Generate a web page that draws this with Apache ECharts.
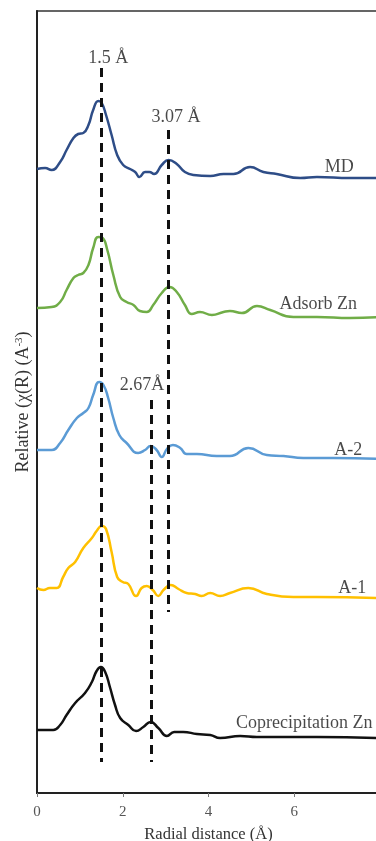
<!DOCTYPE html>
<html>
<head>
<meta charset="utf-8">
<script src="https://cdn.jsdelivr.net/npm/echarts@6/dist/echarts.min.js"></script>
<style>
  html, body { margin: 0; padding: 0; background: #ffffff; }
  #chartFT { width: 376px; height: 841px; }
</style>
</head>
<body>
<div id="chartFT"></div>
<script>
// radial distance (Å) vs stacked relative amplitude
const mdData = [[0, 62.4], [0.19, 62.5], [0.34, 62.3], [0.54, 63.1], [0.69, 64.3], [0.85, 65.5], [0.96, 65.9], [1.08, 66.0], [1.2, 66.8], [1.31, 68.3], [1.43, 69.2], [1.51, 69.0], [1.61, 67.8], [1.74, 65.8], [1.87, 63.8], [2.01, 62.8], [2.17, 62.4], [2.29, 62.1], [2.39, 61.6], [2.52, 62.1], [2.62, 62.1], [2.73, 61.9], [2.91, 62.8], [3.07, 63.3], [3.26, 62.9], [3.45, 62.1], [3.65, 61.8], [4.04, 61.7], [4.35, 61.9], [4.58, 61.9], [4.97, 62.6], [5.28, 62.1], [5.59, 61.9], [6.14, 61.5], [6.53, 61.6], [7.3, 61.5], [8, 61.5]];
const adsorbData = [[0, 48.5], [0.34, 48.6], [0.54, 49.1], [0.69, 50.3], [0.85, 51.5], [0.96, 51.8], [1.08, 52.0], [1.2, 52.8], [1.31, 54.5], [1.43, 55.6], [1.53, 55.5], [1.64, 54.3], [1.78, 51.8], [1.94, 49.6], [2.09, 49.1], [2.25, 48.8], [2.4, 48.2], [2.56, 48.1], [2.71, 48.8], [2.91, 50.0], [3.09, 50.6], [3.26, 50.1], [3.45, 48.8], [3.61, 47.9], [3.8, 48.1], [4.08, 47.8], [4.35, 48.1], [4.5, 48.2], [4.78, 48.0], [5.13, 48.7], [5.44, 48.3], [5.98, 47.6], [6.53, 47.6], [7.3, 47.5], [8, 47.6]];
const a2Data = [[0, 34.3], [0.34, 34.3], [0.54, 35.0], [0.73, 36.3], [0.93, 37.5], [1.08, 38.0], [1.2, 38.5], [1.31, 39.8], [1.45, 41.1], [1.55, 40.8], [1.66, 39.5], [1.78, 37.5], [1.92, 35.8], [2.09, 35.0], [2.36, 34.0], [2.52, 34.3], [2.65, 34.7], [2.79, 34.3], [2.91, 33.6], [3.03, 34.4], [3.17, 34.8], [3.34, 34.5], [3.49, 33.9], [3.73, 33.9], [4.19, 33.7], [4.5, 33.7], [4.93, 34.5], [5.36, 33.8], [5.75, 33.7], [6.21, 33.5], [6.92, 33.5], [8, 33.4]];
const a1Data = [[0, 20.5], [0.15, 20.3], [0.3, 20.5], [0.46, 20.5], [0.61, 21.6], [0.73, 22.5], [0.89, 23.1], [1.08, 24.5], [1.28, 25.5], [1.39, 26.2], [1.51, 26.7], [1.61, 26.4], [1.74, 24.1], [1.87, 21.6], [2.0, 21.1], [2.13, 20.9], [2.31, 19.7], [2.44, 20.5], [2.56, 20.7], [2.7, 20.3], [2.83, 19.7], [2.95, 20.3], [3.12, 20.8], [3.3, 20.4], [3.49, 20.0], [3.69, 19.9], [3.84, 19.7], [4.04, 20.0], [4.27, 19.7], [4.5, 20.0], [4.93, 20.5], [5.36, 19.9], [5.98, 19.6], [6.53, 19.6], [8, 19.5]];
const coprecData = [[0, 6.3], [0.38, 6.3], [0.54, 6.8], [0.69, 7.8], [0.89, 9.0], [1.12, 10.0], [1.28, 11.1], [1.39, 12.2], [1.49, 12.6], [1.59, 12.1], [1.7, 10.6], [1.82, 8.8], [1.94, 7.5], [2.13, 6.8], [2.31, 6.2], [2.48, 6.6], [2.65, 7.1], [2.83, 6.5], [3.03, 5.7], [3.2, 6.1], [3.41, 6.1], [3.73, 5.9], [4.04, 5.8], [4.27, 5.5], [4.74, 5.7], [5.13, 5.6], [5.75, 5.6], [6.53, 5.6], [8, 5.5]];

const seriesNames = ['MD', 'Adsorb Zn', 'A-2', 'A-1', 'Coprecipitation Zn'];
const seriesColors = ['#2e4d87', '#70ad47', '#5b9bd5', '#ffc000', '#111111'];

// dashed guide lines: [x, yTop, yBottom]
const guideLines = [[1.5, 72.5, 3.1], [3.07, 66.3, 18.1], [2.67, 39.3, 3.1]];

// text annotations: [x, y, text, align]
const annotations = [
  [1.66, 73.5, '1.5 Å', 'center'],
  [3.24, 67.6, '3.07 Å', 'center'],
  [2.45, 40.8, '2.67Å', 'center'],
  [7.05, 62.6, 'MD', 'center'],
  [6.56, 48.9, 'Adsorb Zn', 'center'],
  [7.26, 34.3, 'A-2', 'center'],
  [7.35, 20.5, 'A-1', 'center'],
  [4.64, 7.0, 'Coprecipitation Zn', 'left']
];

const curveList = [mdData, adsorbData, a2Data, a1Data, coprecData];
const fontFamily = '"Liberation Serif", "Times New Roman", serif';

let chartInstance = echarts.init(document.getElementById('chartFT'));

function drawChart() {
  let series = curveList.map((d, i) => ({
    type: 'line',
    name: seriesNames[i],
    data: d,
    smooth: 0.5,
    showSymbol: false,
    lineStyle: {color: seriesColors[i], width: 2.5},
    itemStyle: {color: seriesColors[i]},
    z: 2
  }));

  series.push({
    type: 'scatter',
    symbolSize: 0,
    silent: true,
    z: 5,
    data: annotations.map(a => ({
      value: [a[0], a[1]],
      label: {
        show: true,
        position: 'inside',
        align: a[3],
        formatter: a[2],
        color: '#1a1a1a',
        fontSize: 18,
        fontFamily: fontFamily
      }
    })),
    markLine: {
      silent: true,
      symbol: 'none',
      label: {show: false},
      lineStyle: {color: '#111111', width: 3, type: [9, 6]},
      data: guideLines.map(g => [{coord: [g[0], g[1]]}, {coord: [g[0], g[2]]}])
    }
  });

  chartInstance.setOption({
    animation: false,
    grid: {
      left: 37,
      right: -4,
      top: 11,
      bottom: 48,
      outerBoundsMode: 'none',
      containLabel: false,
      show: true,
      borderColor: '#333333',
      borderWidth: 1.5
    },
    xAxis: {
      type: 'value',
      min: 0,
      max: 8,
      interval: 2,
      name: 'Radial distance (Å)',
      nameLocation: 'middle',
      nameGap: 33,
      nameTextStyle: {color: '#333333', fontSize: 16.5, fontFamily: fontFamily},
      axisLine: {show: true, lineStyle: {color: '#222222', width: 2}},
      axisTick: {show: true, length: 4, lineStyle: {color: '#777777'}},
      axisLabel: {color: '#555555', fontSize: 15, fontFamily: fontFamily, margin: 12},
      splitLine: {show: false}
    },
    yAxis: {
      type: 'value',
      min: 0,
      max: 78.2,
      name: '{t|Relative (χ(R) (A}{s|-3}{t|)}',
      nameLocation: 'middle',
      nameRotate: 90,
      nameGap: 4,
      nameTextStyle: {
        rich: {
          t: {color: '#333333', fontSize: 18, fontFamily: fontFamily},
          s: {color: '#333333', fontSize: 11, fontFamily: fontFamily, verticalAlign: 'top', padding: [0, 0, 8, 0]}
        }
      },
      axisLine: {show: true, lineStyle: {color: '#222222', width: 2}},
      axisTick: {show: false},
      axisLabel: {show: false},
      splitLine: {show: false}
    },
    series: series
  });
}

drawChart();
</script>
</body>
</html>
